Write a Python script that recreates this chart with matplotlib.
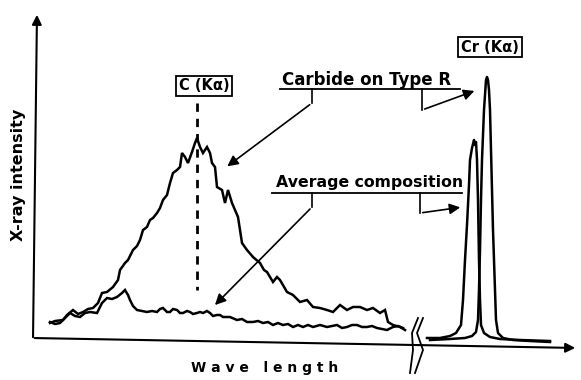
import matplotlib
matplotlib.use("Agg")
import matplotlib.pyplot as plt

# curves (x = wavelength, y = intensity, arbitrary units)
carbide_x = [50, 55, 63, 67, 73, 78, 83, 88, 93, 98, 102, 107, 113, 118, 120, 125, 128,
             133, 137, 140, 143, 147, 150, 153, 157, 160, 163, 167, 170, 173, 177, 180,
             182, 185, 188, 192, 195, 197, 200, 203, 207, 210, 212, 215, 217, 222, 225,
             228, 232, 235, 238, 240, 242, 247, 253, 260, 264, 267, 273, 277, 280, 287,
             293, 300, 307, 313, 320, 327, 333, 340, 347, 353, 360, 367, 373, 380, 385,
             388, 393, 400, 405]
carbide_y = [57, 59, 60, 65, 70, 66, 68, 71, 72, 77, 87, 88, 93, 100, 110, 117, 120,
             130, 134, 140, 150, 153, 160, 162, 167, 172, 180, 185, 197, 207, 210, 213,
             227, 223, 217, 228, 237, 242, 233, 227, 233, 227, 217, 213, 193, 190, 177,
             190, 177, 170, 163, 150, 137, 130, 123, 117, 110, 108, 98, 103, 100, 88,
             85, 78, 80, 73, 72, 70, 68, 75, 70, 73, 73, 70, 72, 67, 70,
             58, 55, 53, 50]

average_x = [50, 55, 60, 65, 70, 75, 80, 85, 90, 97, 102, 107, 112, 117, 122, 125, 128,
             130, 133, 137, 142, 147, 152, 157, 160, 163, 167, 170, 173, 177, 180, 183,
             187, 190, 193, 197, 200, 203, 207, 210, 213, 217, 220, 223, 230, 237, 242,
             247, 253, 258, 263, 268, 273, 278, 283, 288, 293, 298, 303, 308, 313, 320,
             327, 332, 337, 342, 347, 352, 357, 362, 367, 372, 377, 382, 387, 393, 398, 403]
average_y = [58, 56, 57, 62, 67, 64, 63, 67, 68, 67, 77, 82, 81, 83, 87, 90, 85,
             80, 74, 70, 69, 68, 69, 68, 71, 72, 68, 68, 71, 70, 67, 67,
             69, 68, 66, 67, 68, 67, 69, 67, 64, 65, 65, 63, 63, 60, 61,
             58, 58, 59, 57, 58, 55, 57, 55, 56, 53, 55, 53, 55, 53, 55,
             53, 54, 55, 52, 53, 55, 55, 53, 53, 54, 52, 51, 50, 53, 54, 52]

# Cr K-alpha region (after the axis break)
cr_avg_x = [427, 440, 450, 456, 461, 463, 465, 467, 469, 470, 472, 474, 475, 476, 477,
            478, 479, 480, 481, 484, 490, 500, 520, 550]
cr_avg_y = [42, 42, 44, 47, 55, 80, 120, 155, 195, 220, 232, 240, 235, 238, 220,
            180, 120, 80, 55, 47, 43, 41, 40, 39]
cr_carb_x = [430, 450, 465, 472, 476, 478, 479, 480, 481, 482, 484, 486, 487, 488, 489,
             490, 491, 492, 493, 495, 496, 498, 503, 513, 530, 550]
cr_carb_y = [40, 41, 42, 44, 48, 60, 90, 130, 180, 220, 270, 300, 303, 300, 290,
             270, 230, 190, 150, 90, 60, 47, 42, 40, 39, 38]

fig = plt.figure(figsize=(5.81, 3.80), dpi=100)
ax = fig.add_axes([0, 0, 1, 1])
ax.set_xlim(0, 581)
ax.set_ylim(0, 380)
ax.axis('off')

lw = 1.8
ax.plot(carbide_x, carbide_y, color='black', lw=lw, solid_joinstyle='miter')
ax.plot(average_x, average_y, color='black', lw=lw, solid_joinstyle='miter')
ax.plot(cr_avg_x, cr_avg_y, color='black', lw=lw)
ax.plot(cr_carb_x, cr_carb_y, color='black', lw=lw)

# axes drawn by hand with arrow heads
arr = dict(arrowstyle='-|>', color='black', lw=1.5, mutation_scale=14)
ax.annotate('', xy=(578, 32), xytext=(32, 42), arrowprops=arr)
ax.annotate('', xy=(37, 368), xytext=(33, 40), arrowprops=arr)

# axis break
ax.plot([418, 412, 413, 410], [62, 47, 30, 7], color='black', lw=1.3)
ax.plot([423, 417, 423, 415], [62, 47, 30, 7], color='black', lw=1.3)

# C K-alpha marker
ax.plot([197, 197], [277, 90], color='black', lw=2, linestyle=(0, (3, 2.5)))
box = dict(boxstyle='square,pad=0.2', facecolor='white', edgecolor='black', lw=1.3)
ax.text(204, 294, 'C (Kα)', ha='center', va='center', fontsize=10.5,
        fontweight='bold', bbox=box)
ax.text(490, 333, 'Cr (Kα)', ha='center', va='center', fontsize=10.5,
        fontweight='bold', bbox=box)

# labels with leader lines
head = dict(arrowstyle='-|>', color='black', lw=1.2, mutation_scale=16)
ax.text(282, 295, 'Carbide on Type R', ha='left', va='baseline', fontsize=12,
        fontweight='bold')
ax.plot([280, 460], [291, 291], color='black', lw=1.3)
ax.plot([312, 312], [291, 277], color='black', lw=1.2)
ax.annotate('', xy=(225, 212), xytext=(312, 277), arrowprops=head)
ax.plot([422, 422], [291, 270], color='black', lw=1.2)
ax.annotate('', xy=(477, 290), xytext=(422, 270), arrowprops=head)

ax.text(276, 193, 'Average composition', ha='left', va='baseline', fontsize=11.3,
        fontweight='bold')
ax.plot([272, 462], [187, 187], color='black', lw=1.3)
ax.plot([312, 312], [187, 173], color='black', lw=1.2)
ax.annotate('', xy=(213, 73), xytext=(312, 173), arrowprops=head)
ax.plot([420, 420], [187, 167], color='black', lw=1.2)
ax.annotate('', xy=(463, 173), xytext=(420, 167), arrowprops=head)

ax.text(19, 205, 'X-ray intensity', rotation=90, ha='center', va='center',
        fontsize=11.5, fontweight='bold')
ax.text(265, 12, 'W a v e   l e n g t h', ha='center', va='center', fontsize=10,
        fontweight='bold')

fig.savefig('out.png', dpi=100)
